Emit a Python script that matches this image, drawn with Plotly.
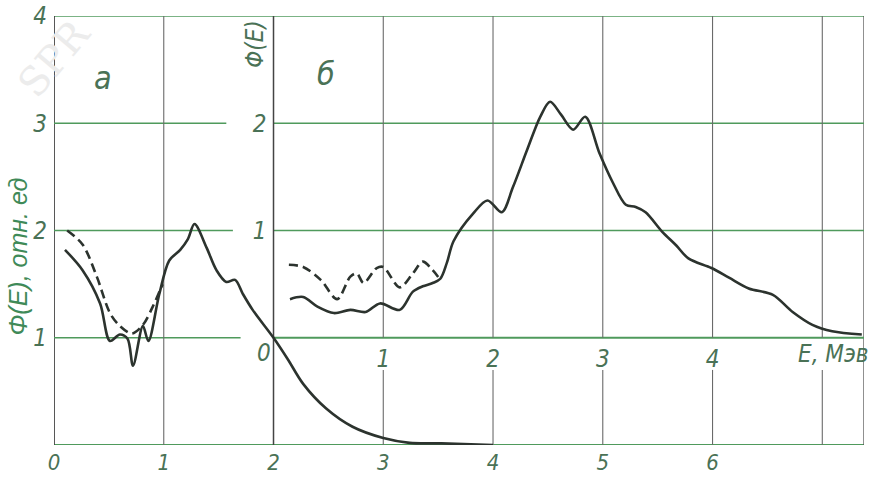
import plotly.graph_objects as go

# ---------------- data ----------------
# panel a (main axes, E in MeV, relative units)
a_solid_x = [0.10, 0.26, 0.42, 0.51, 0.60, 0.67, 0.72, 0.81, 0.86, 0.96, 1.05, 1.15, 1.22, 1.28,
             1.39, 1.48, 1.57, 1.65, 1.72, 1.81, 2.00, 2.13, 2.27, 2.48, 2.72, 3.00, 3.24, 3.53, 4.00]
a_solid_y = [1.82, 1.63, 1.32, 0.97, 1.03, 0.99, 0.74, 1.11, 0.97, 1.41, 1.72, 1.82, 1.92, 2.06,
             1.84, 1.63, 1.52, 1.54, 1.41, 1.26, 1.00, 0.80, 0.57, 0.34, 0.17, 0.065, 0.02, 0.015, 0.0]
a_dash_x = [0.12, 0.26, 0.39, 0.51, 0.60, 0.71, 0.81, 0.90, 0.99]
a_dash_y = [2.00, 1.87, 1.57, 1.23, 1.11, 1.04, 1.12, 1.29, 1.50]

# panel б (inset axes)
b_solid_x = [0.15, 0.27, 0.40, 0.55, 0.70, 0.84, 0.97, 1.15, 1.27, 1.36, 1.45, 1.52, 1.58, 1.64,
             1.82, 1.95, 2.08, 2.18, 2.31, 2.43, 2.52, 2.62, 2.73, 2.84, 2.97, 3.09, 3.21, 3.30,
             3.39, 3.54, 3.67, 3.78, 3.99, 4.15, 4.33, 4.55, 4.73, 4.91, 5.09, 5.36]
b_solid_y = [0.36, 0.38, 0.29, 0.23, 0.26, 0.24, 0.32, 0.26, 0.43, 0.48, 0.51, 0.55, 0.70, 0.90,
             1.16, 1.28, 1.17, 1.40, 1.75, 2.06, 2.20, 2.08, 1.94, 2.06, 1.72, 1.45, 1.24, 1.22,
             1.17, 0.99, 0.86, 0.74, 0.65, 0.56, 0.46, 0.40, 0.24, 0.12, 0.06, 0.03]
b_dash_x = [0.14, 0.27, 0.43, 0.58, 0.70, 0.76, 0.82, 0.94, 1.00, 1.15, 1.27, 1.36, 1.45, 1.52]
b_dash_y = [0.68, 0.66, 0.54, 0.36, 0.57, 0.60, 0.51, 0.65, 0.66, 0.47, 0.60, 0.71, 0.63, 0.54]

main_xticks = [0, 1, 2, 3, 4, 5, 6]
main_yticks = [1, 2, 3, 4]
inset_xticks = [1, 2, 3, 4]
inset_yticks = [1, 2]

X_MAX = 7.38
Y_MAX = 4.0
INSET_X0, INSET_Y0 = 2.0, 1.0

# ---------------- style ----------------
FONT = "Liberation Sans Narrow, DejaVu Sans Condensed, DejaVu Sans, sans-serif"
TXT = "#4a7256"
CURVE = "#2c332e"
HGRID = "#4f9a5c"
VGRID = "#6a6a6a"
tick_font = dict(family=FONT, size=24, color=TXT, style="italic")
bottom_tick_font = dict(family=FONT, size=22, color=TXT, style="italic")

fig = go.Figure()

line_kw = dict(color=CURVE, width=2.6, shape="spline", smoothing=0.9)
fig.add_trace(go.Scatter(x=a_solid_x, y=a_solid_y, mode="lines", line=line_kw,
                         xaxis="x", yaxis="y", showlegend=False))
fig.add_trace(go.Scatter(x=a_dash_x, y=a_dash_y, mode="lines", line=dict(line_kw, dash="9px,5px"),
                         xaxis="x", yaxis="y", showlegend=False))
fig.add_trace(go.Scatter(x=b_solid_x, y=b_solid_y, mode="lines", line=line_kw,
                         xaxis="x2", yaxis="y2", showlegend=False))
fig.add_trace(go.Scatter(x=b_dash_x, y=b_dash_y, mode="lines", line=dict(line_kw, dash="9px,5px"),
                         xaxis="x2", yaxis="y2", showlegend=False))

shapes = []
def hline(y, x0, x1, color=HGRID, w=1.4):
    shapes.append(dict(type="line", xref="x", yref="y", x0=x0, x1=x1, y0=y, y1=y,
                       line=dict(color=color, width=w), layer="below"))
def vline(x, y0, y1, color=VGRID, w=1.1):
    shapes.append(dict(type="line", xref="x", yref="y", x0=x, x1=x, y0=y0, y1=y1,
                       line=dict(color=color, width=w), layer="below"))

# frame
hline(0, 0, X_MAX, w=1.8)
hline(Y_MAX, 0, X_MAX, w=1.6)
vline(0, 0, Y_MAX, color="#444", w=1.8)
vline(X_MAX, 0, Y_MAX, color="#555", w=1.3)
# panel a horizontal grid
hline(1, 0, 1.70)
hline(2, 0, 1.63)
hline(3, 0, 1.57)
# inset baseline and grid
hline(INSET_Y0, INSET_X0, X_MAX, w=1.8)
for v in inset_yticks:
    hline(INSET_Y0 + v, INSET_X0, X_MAX)
# verticals
vline(1, 0, Y_MAX)
vline(INSET_X0, 0, Y_MAX, color="#444", w=1.5)
for v in [3, 4, 5, 6, 7]:
    vline(v, 0, 0.70)
    vline(v, INSET_Y0, Y_MAX)

annotations = [
    dict(text="SPR", x=(54 - 54) / 810, y=(445 - 58) / 429, xref="paper", yref="paper",
         xanchor="center", yanchor="middle", textangle=-50, showarrow=False,
         font=dict(family="DejaVu Serif", size=40, color="#ececec")),
    dict(text="Φ(E), отн. ед", x=-0.044, y=0.44, xref="paper", yref="paper", textangle=-90,
         xanchor="center", yanchor="middle", showarrow=False,
         font=dict(family="Liberation Sans, sans-serif", size=25, color="#3f8a58", style="italic")),
    dict(text="E,  Мэв", x=7.08, y=-0.15, xref="x", yref="y", showarrow=False,
         font=dict(family=FONT, size=23, color=TXT, style="italic")),
    dict(text="E, Мэв", x=7.1, y=0.85, xref="x", yref="y", showarrow=False,
         font=dict(family=FONT, size=24, color=TXT, style="italic")),
    dict(text="0", x=1.91, y=0.86, xref="x", yref="y", showarrow=False, font=tick_font),
    dict(text="Φ(E)", x=1.83, y=3.74, xref="x", yref="y", textangle=-90, showarrow=False,
         font=dict(family=FONT, size=24, color=TXT, style="italic")),
    dict(text="a", x=0.45, y=3.42, xref="x", yref="y", showarrow=False,
         font=dict(family=FONT, size=32, color=TXT, style="italic")),
    dict(text="б", x=2.48, y=3.46, xref="x", yref="y", showarrow=False,
         font=dict(family=FONT, size=32, color=TXT, style="italic")),
]

common_ax = dict(showgrid=False, zeroline=False, showline=False, ticks="", automargin=False)

fig.update_layout(
    width=889, height=477,
    margin=dict(l=54, r=25, t=16, b=32, autoexpand=False),
    paper_bgcolor="white", plot_bgcolor="rgba(0,0,0,0)",
    shapes=shapes, annotations=annotations,
    xaxis=dict(domain=[0, 1], range=[0, X_MAX], tickvals=main_xticks,
               ticktext=[str(v) for v in main_xticks], ticklabelstandoff=2,
               tickfont=bottom_tick_font, **common_ax),
    yaxis=dict(domain=[0, 1], range=[0, Y_MAX], tickvals=main_yticks,
               ticktext=[str(v) for v in main_yticks], ticklabelstandoff=6,
               tickfont=tick_font, **common_ax),
    xaxis2=dict(domain=[INSET_X0 / X_MAX, 1], range=[0, X_MAX - INSET_X0], anchor="y2",
                tickvals=inset_xticks, ticktext=[str(v) for v in inset_xticks],
                ticklabelstandoff=4, tickfont=tick_font, **common_ax),
    yaxis2=dict(domain=[INSET_Y0 / Y_MAX, 1], range=[0, Y_MAX - INSET_Y0], anchor="x2",
                tickvals=inset_yticks, ticktext=[str(v) for v in inset_yticks],
                ticklabelstandoff=6, tickfont=tick_font, **common_ax),
)

fig.write_html("out.html")
